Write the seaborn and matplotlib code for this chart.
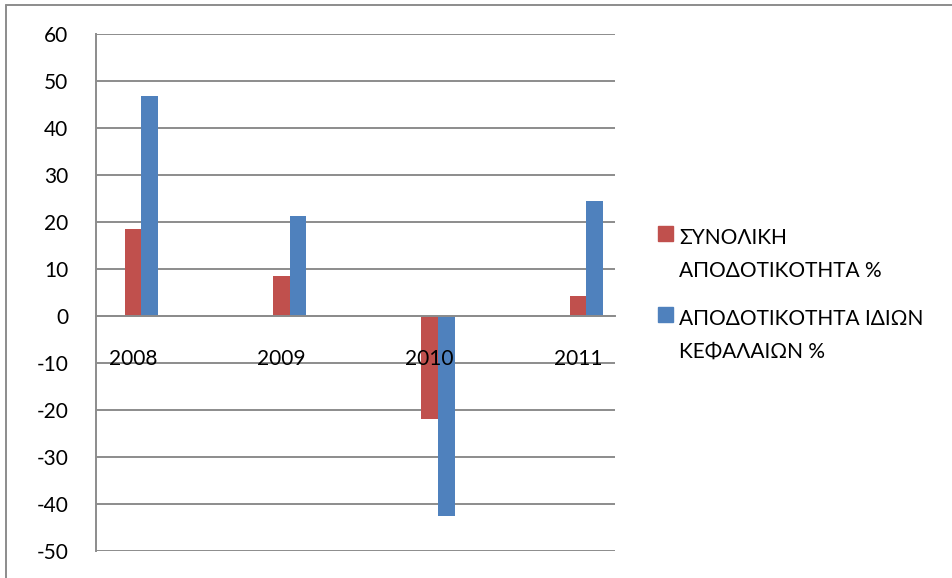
import pandas as pd
import seaborn as sns
import matplotlib.pyplot as plt
from matplotlib.patches import Patch, Rectangle
from matplotlib.legend_handler import HandlerPatch
from matplotlib.lines import Line2D

years = ['2008', '2009', '2010', '2011']
total_return = [18.4, 8.4, -22.0, 4.2]
equity_return = [46.7, 21.3, -42.6, 24.4]
series_names = ['ΣΥΝΟΛΙΚΗ\nΑΠΟΔΟΤΙΚΟΤΗΤΑ %', 'ΑΠΟΔΟΤΙΚΟΤΗΤΑ ΙΔΙΩΝ\nΚΕΦΑΛΑΙΩΝ %']
colors = ['#C0504D', '#4F81BD']
y_ticks = list(range(-50, 61, 10))

df = pd.DataFrame({
    'year': years * 2,
    'value': total_return + equity_return,
    'series': [series_names[0]] * len(years) + [series_names[1]] * len(years),
})

# the excel chart leaves an empty slot between the years
slots = ['2008', ' ', '2009', '  ', '2010', '   ', '2011']
gray = '#8c8c8c'

sns.set_style('white')
plt.rcParams['font.family'] = ['Lato', 'DejaVu Sans']
plt.rcParams['axes.unicode_minus'] = False

W, H = 953, 578
fig = plt.figure(figsize=(W / 100, H / 100), dpi=100)
ax = fig.add_axes([96 / W, 1 - 551 / H, (615 - 96) / W, (551 - 33.7) / H])

bar_w = 0.45
sns.barplot(data=df, x='year', y='value', hue='series', order=slots,
            hue_order=series_names, palette=colors, width=bar_w,
            saturation=1, errorbar=None, legend=False, linewidth=0, ax=ax)

# red bar sits in the middle of its slot, blue one to the right
off = bar_w / 4
centers = [i - off for i in range(len(slots))]
bounds = [i - off - 0.5 for i in range(len(slots) + 1)]

ax.set_xlim(bounds[0], bounds[-1])
ax.set_ylim(-50, 60)
ax.set_xticks(bounds, labels=[''] * len(bounds))
ax.set_xticks([centers[i] for i in range(0, len(slots), 2)], labels=years, minor=True)
ax.set_yticks(y_ticks)
ax.set_xlabel('')
ax.set_ylabel('')

ax.spines['bottom'].set_position(('data', 0))
for s in ['top', 'right']:
    ax.spines[s].set_visible(False)
for s in ['left', 'bottom']:
    ax.spines[s].set_color(gray)
    ax.spines[s].set_linewidth(1.4)

ax.yaxis.grid(True, color=gray, lw=1.4)
ax.set_axisbelow(True)
ax.xaxis.set_zorder(5)  # year labels are printed over the 2010 bars
ax.tick_params(axis='x', which='major', length=7, width=1.4, color=gray, direction='out')
ax.tick_params(axis='x', which='minor', length=0, pad=24, labelsize=15, labelcolor='black')
ax.tick_params(axis='y', length=7, width=1.4, color=gray, direction='out', pad=13,
               labelsize=15, labelcolor='black')


def top_square(legend, orig_handle, xdescent, ydescent, width, height, fontsize):
    size = 0.72 * fontsize
    return Rectangle((-xdescent, 1.75 * fontsize - size), size, size)


handles = [Patch(color=c) for c in colors]
leg = ax.legend(handles, series_names, loc='upper left',
                bbox_to_anchor=(658 / W, 1 - 228 / H), bbox_transform=fig.transFigure,
                frameon=False, borderpad=0, borderaxespad=0, handlelength=0.72,
                handletextpad=0.3, labelspacing=1.37, fontsize=15, labelcolor='black',
                handler_map={Patch: HandlerPatch(patch_func=top_square)})
for t in leg.get_texts():
    t.set_linespacing(1.8)

# outer chart border (left and top edges only are visible)
fig.add_artist(Line2D([6 / W, 6 / W], [0, 1 - 5 / H], color=gray, lw=1.4))
fig.add_artist(Line2D([6 / W, 1], [1 - 5 / H, 1 - 5 / H], color=gray, lw=1.4))

fig.savefig('out.png', dpi=100)
